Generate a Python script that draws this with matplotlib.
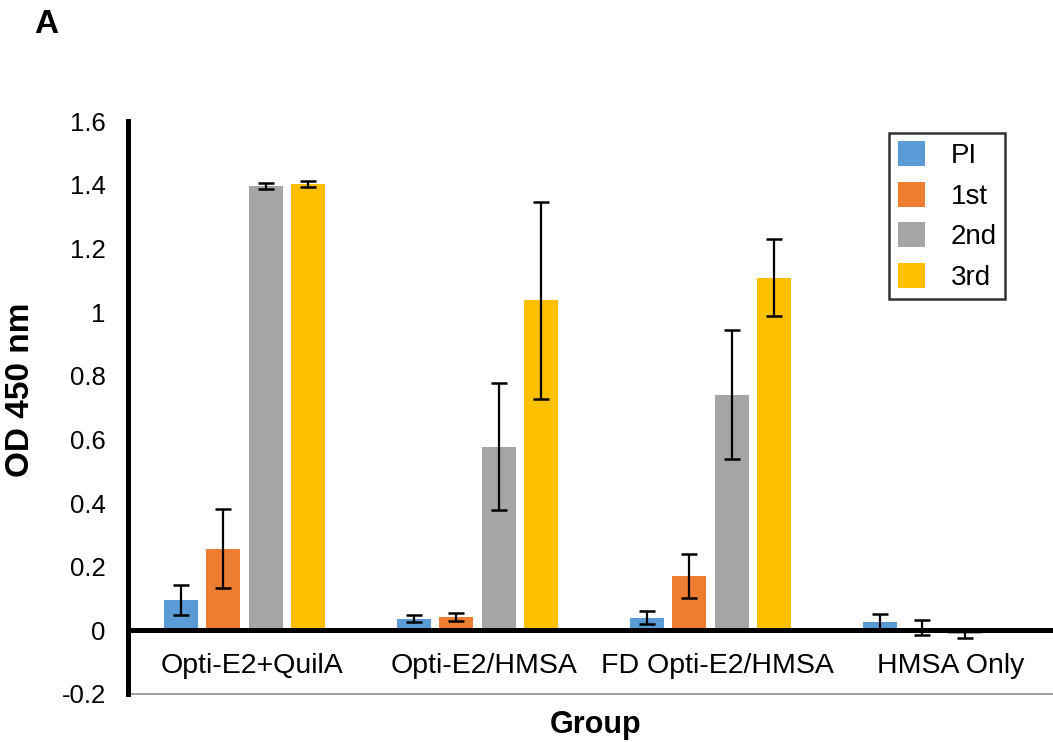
import numpy as np
import matplotlib
matplotlib.use('Agg')
import matplotlib.pyplot as plt

plt.rcParams['font.family'] = ['Liberation Sans', 'DejaVu Sans']

groups = ['Opti-E2+QuilA', 'Opti-E2/HMSA', 'FD Opti-E2/HMSA', 'HMSA Only']
series = ['PI', '1st', '2nd', '3rd']
colors = ['#5B9BD5', '#ED7D31', '#A5A5A5', '#FFC000']

pi_mean = [0.095, 0.037, 0.040, 0.027]
pi_err = [0.047, 0.012, 0.020, 0.025]
first_mean = [0.257, 0.042, 0.170, 0.008]
first_err = [0.125, 0.012, 0.070, 0.024]
second_mean = [1.396, 0.577, 0.740, -0.010]
second_err = [0.010, 0.200, 0.202, 0.015]
third_mean = [1.402, 1.037, 1.108, 0.002]
third_err = [0.010, 0.310, 0.122, 0.0]

means = [pi_mean, first_mean, second_mean, third_mean]
errs = [pi_err, first_err, second_err, third_err]
yticks = [-0.2, 0, 0.2, 0.4, 0.6, 0.8, 1.0, 1.2, 1.4, 1.6]
ytick_labels = ['-0.2', '0', '0.2', '0.4', '0.6', '0.8', '1', '1.2', '1.4', '1.6']

fig = plt.figure(figsize=(10.53, 7.42), dpi=100)
ax = fig.add_axes([0.1216, 0.0647, 0.8784, 0.7722])

x = np.arange(len(groups))
step = 0.1815
width = 0.146
for i, (m, e) in enumerate(zip(means, errs)):
    pos = x + (i - 1.5) * step
    ax.bar(pos, m, width, color=colors[i], label=series[i], zorder=2)
    ax.errorbar(pos, m, yerr=e, fmt='none', ecolor='black', elinewidth=1.6,
                capsize=5.5, capthick=1.8, zorder=3)

ax.set_xlim(-0.5, 3.47)
ax.set_ylim(-0.2, 1.6)
ax.set_yticks(yticks)
ax.set_yticklabels(ytick_labels)
ax.set_xticks(x + 0.03)
ax.set_xticklabels(groups)

# thin grey line at the bottom of the plot area
ax.axhline(-0.2, color='#8c8c8c', linewidth=1.2, zorder=1, clip_on=False)

for s in ['top', 'right']:
    ax.spines[s].set_visible(False)
ax.spines['left'].set_linewidth(3.6)
ax.spines['bottom'].set_linewidth(3.6)
ax.spines['bottom'].set_position(('data', 0))
ax.spines['bottom'].set_zorder(4)

ax.tick_params(axis='y', length=0, pad=16, labelsize=18.5)
ax.tick_params(axis='x', length=0, pad=16, labelsize=20.5)

leg = ax.legend(loc='upper right', bbox_to_anchor=(0.948, 0.979),
                borderaxespad=0, fontsize=20, frameon=True, fancybox=False,
                edgecolor='black', handlelength=1.0, handleheight=1.0,
                handletextpad=0.9, labelspacing=0.45, borderpad=0.3)
leg.get_frame().set_linewidth(1.8)

fig.text(21 / 1053, 1 - 390 / 742, 'OD 450 nm', fontsize=24, fontweight='bold',
         rotation=90, ha='center', va='center')
fig.text(596 / 1053, 1 - 733 / 742, 'Group', fontsize=22, fontweight='bold',
         ha='center', va='baseline')
fig.text(46 / 1053, 1 - 33 / 742, 'A', fontsize=24, fontweight='bold',
         ha='center', va='baseline')

fig.savefig('out.png', dpi=100)
